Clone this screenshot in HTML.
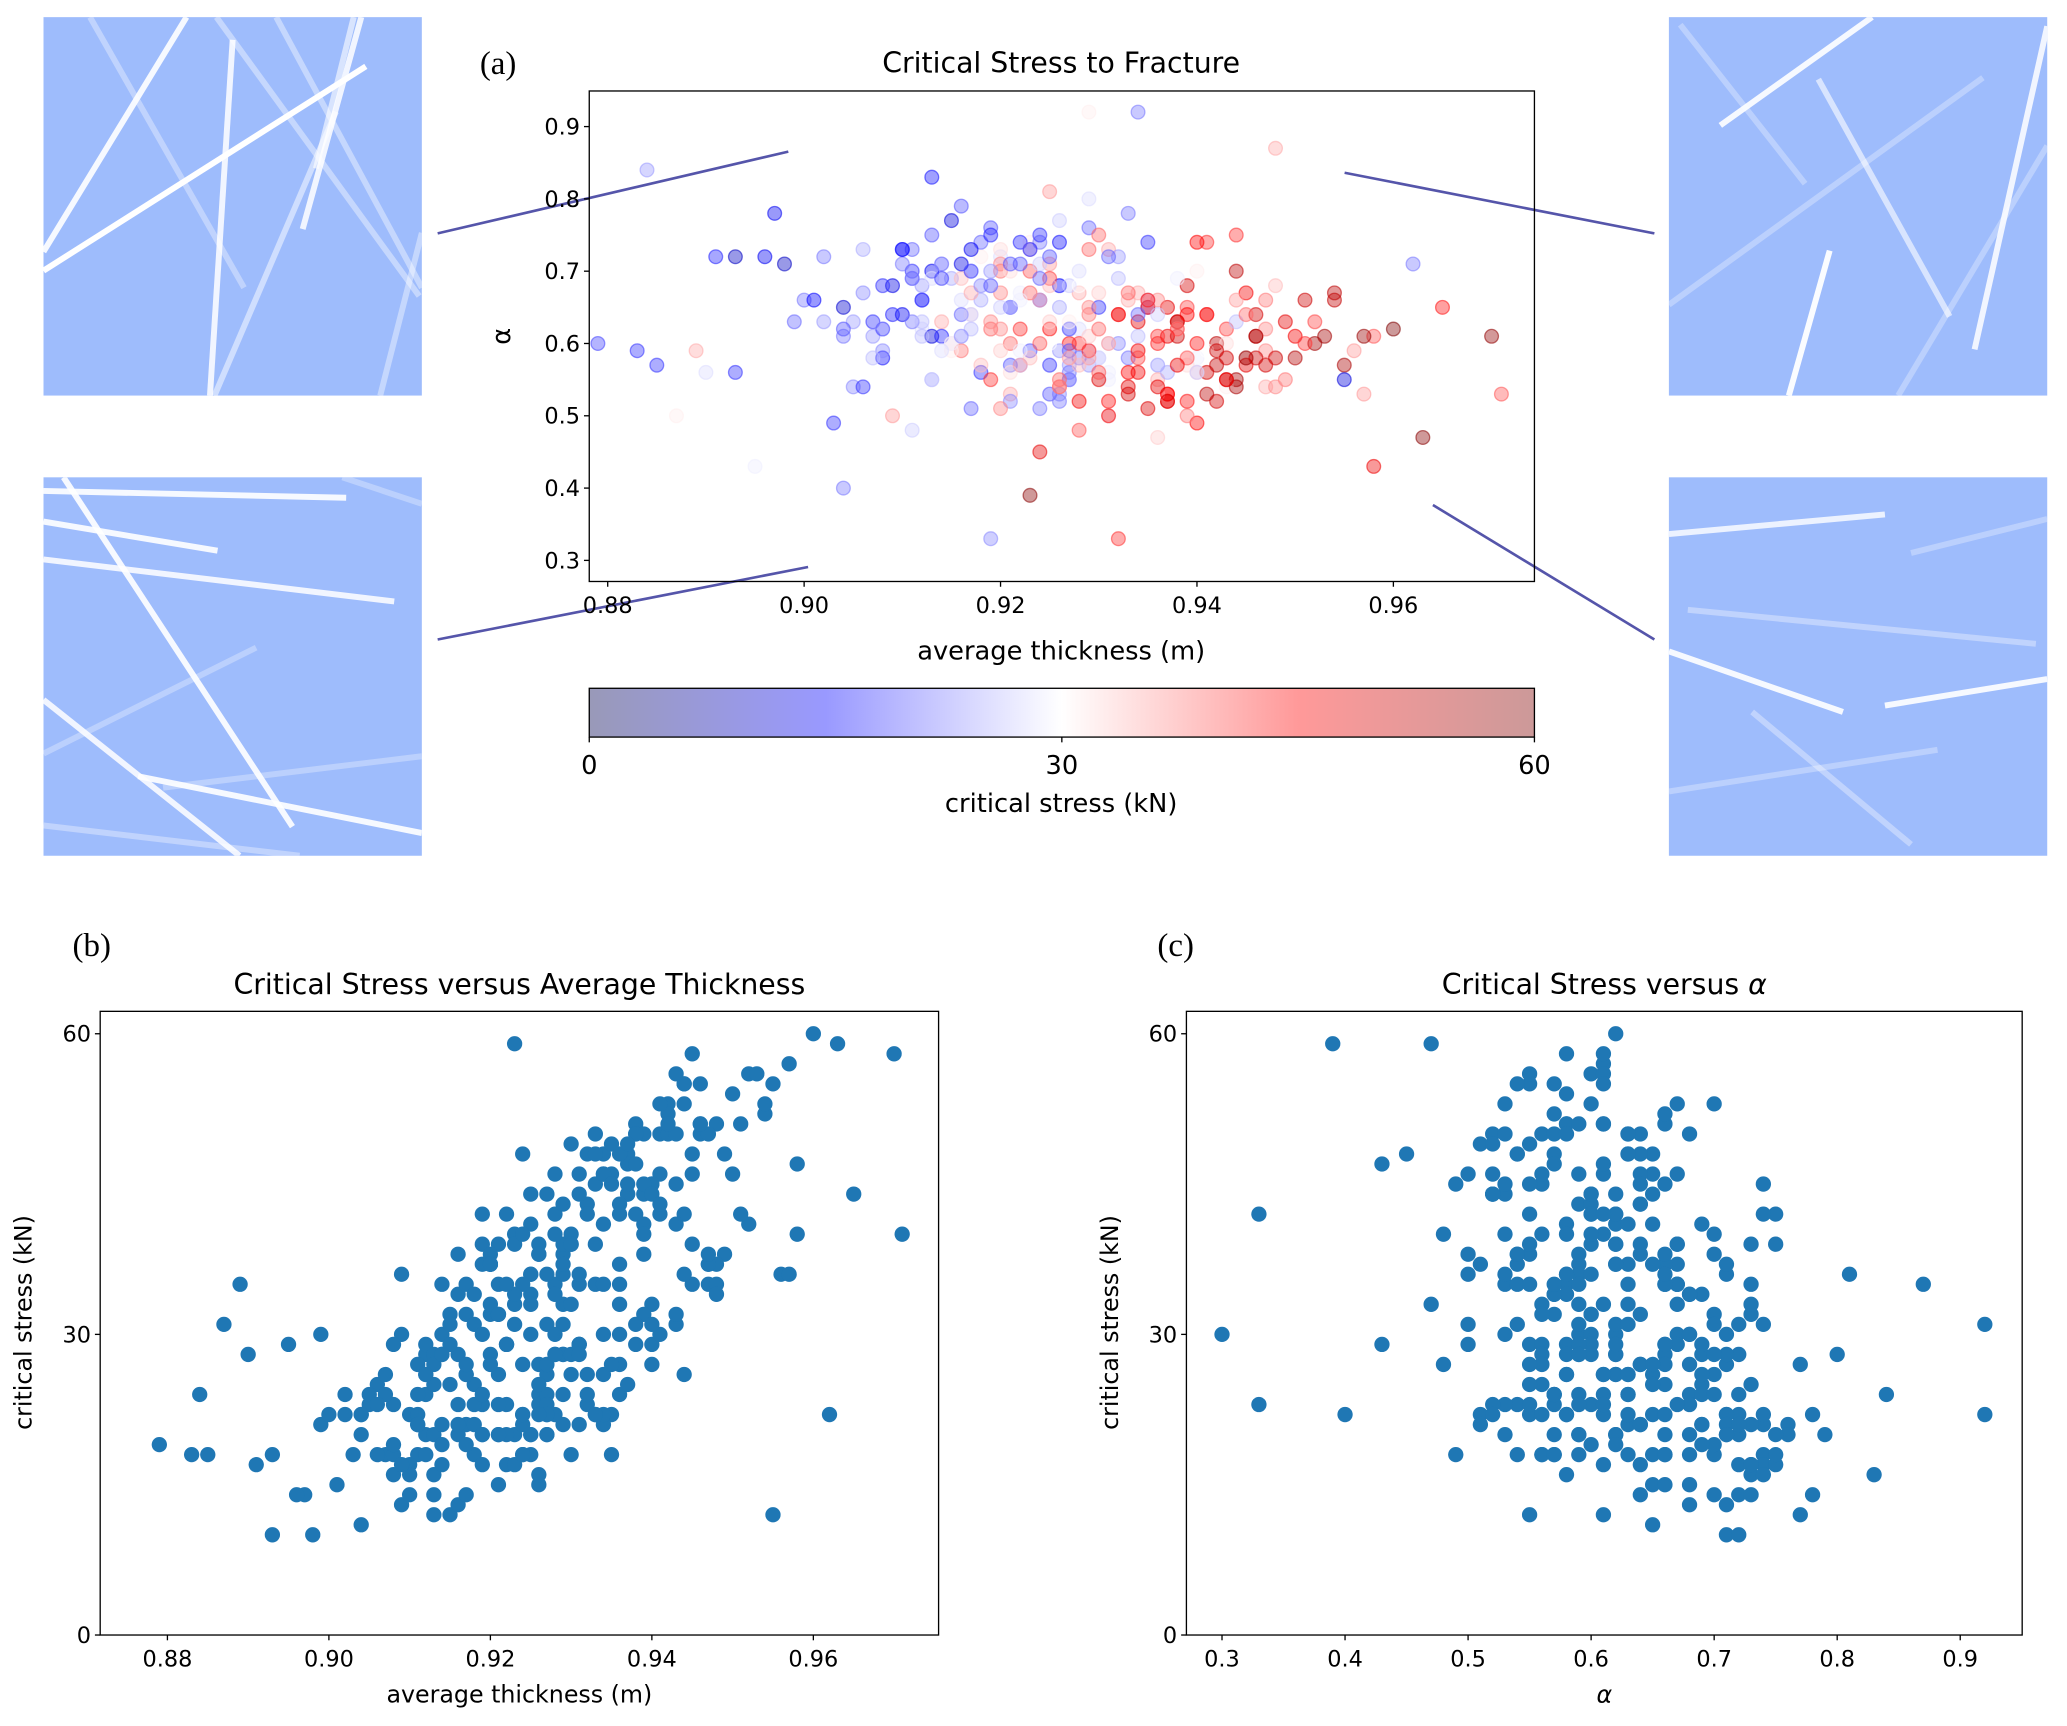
<!DOCTYPE html>
<html><head><meta charset="utf-8"><style>
html,body{margin:0;padding:0;background:#fff;}
svg{display:block;font-family:"DejaVu Sans","Liberation Sans",sans-serif;}
.tk{font-size:17px;fill:#000;}
.ttl{font-size:21.5px;fill:#000;}
.lbl{font-size:19.5px;fill:#000;}
.al{font-size:18px;fill:#000;}
.pl{font-family:"Liberation Serif",serif;font-size:25px;fill:#000;}
</style></head><body>
<svg id="fig" width="2067" height="1726" viewBox="0 0 1568 1309" preserveAspectRatio="none" xmlns="http://www.w3.org/2000/svg">
<defs>
<linearGradient id="cbg" x1="0" x2="1" y1="0" y2="0">
<stop offset="0" stop-color="#9999b8"/><stop offset="0.25" stop-color="#9999ff"/><stop offset="0.5" stop-color="#ffffff"/><stop offset="0.75" stop-color="#ff9999"/><stop offset="1" stop-color="#cc9999"/>
</linearGradient>
</defs>
<g id="panels"></g>
<g id="plotA"></g>
<g id="plotB"></g>
<g id="plotC"></g>
</svg>
<script>
const thickness = [912,931,925,940,918,903,927,935,921,946,909,929,938,916,924,951,907,933,920,944,
926,914,937,899,929,942,918,923,911,935,955,920,928,905,939,931,917,947,924,913,
933,908,921,944,926,915,936,902,929,949,919,925,940,912,930,958,923,906,937,927,
917,941,910,928,934,897,922,945,914,931,927,952,908,936,920,943,925,916,939,930,
922,935,904,947,918,929,913,938,926,893,941,921,932,911,950,924,937,915,928,944,
929,910,940,923,956,917,931,906,936,925,914,948,921,939,902,927,934,919,943,912,
936,920,926,900,945,913,932,924,941,908,929,917,954,922,937,911,930,946,918,927,
914,943,919,934,909,928,939,896,925,950,916,931,905,940,923,935,912,927,947,920,
931,925,944,911,921,938,901,929,916,942,934,920,957,927,913,945,924,937,908,930,
919,939,913,930,953,922,907,936,926,944,915,932,898,928,941,917,933,910,925,948,
884,962,889,970,893,965,883,960,891,957,879,955,887,963,895,971,885,958,890,954,
928,916,938,921,933,904,946,925,912,940,923,931,909,936,919,943,927,914,934,922,
929,899,932,934,919,948,904,923,
921,934,917,929,945,911,926,938,915,932,904,924,942,919,936,927,913,949,922,931,
925,939,910,930,918,947,923,935,907,928,941,916,933,920,952,926,914,937,924,943,
918,932,927,940,912,936,921,945,929,906,938,923,915,934,948,926,920,931,942,917,
930,913,944,924,937,919,951,928,909,940,922,935,917,946,926,933,911,939,925,921,
916,927,934,920,943,912,930,924,938,908,947,919,933,928,914,941,922,936,926,929];
const alpha = [62,55,71,58,66,49,60,74,53,64,68,57,61,79,51,66,63,58,72,55,
59,67,52,63,76,60,56,70,48,65,57,73,62,54,68,50,64,59,71,61,
66,58,60,75,53,69,57,63,80,55,62,72,49,66,58,61,74,54,65,59,
70,56,64,52,61,78,67,58,63,73,55,60,68,47,71,62,57,66,50,75,
57,65,61,54,72,59,83,63,68,56,74,52,64,70,58,66,53,77,60,63,
64,71,56,67,59,62,50,73,55,69,61,58,65,52,72,57,63,76,54,68,
53,62,77,66,57,70,60,45,64,59,73,51,66,62,56,69,58,61,74,55,
71,60,55,67,62,58,65,72,53,61,69,56,63,74,59,51,66,62,57,70,
60,68,54,73,57,63,66,59,71,52,64,67,61,56,75,58,69,53,62,65,
63,57,69,55,61,74,58,66,52,70,60,64,71,48,59,67,56,73,62,54,
84,71,59,61,72,65,59,62,72,53,60,55,50,47,43,53,57,43,56,67,
67,59,62,70,54,65,58,81,61,56,73,60,50,64,68,55,62,71,59,66,
92,30,33,92,33,87,40,39,
65,58,70,61,67,63,54,69,59,72,62,66,57,75,60,68,55,63,71,52,
60,64,73,56,68,62,58,66,61,70,53,64,67,59,63,55,69,61,74,58,
57,69,63,60,66,54,71,64,58,67,62,73,60,56,68,65,51,72,59,64,
62,55,66,75,52,68,60,57,64,70,59,66,73,61,54,78,69,58,63,56,
61,58,71,65,55,63,67,60,57,62,66,70,53,68,59,64,57,61,74,65];
const stress = [28,29,36,29,25,18,44,18,35,50,13,24,51,20,22,51,18,22,28,55,
24,30,44,21,21,53,18,40,27,22,55,32,28,23,50,29,32,37,27,12,
35,16,39,42,23,25,24,24,28,38,39,20,45,29,26,40,31,18,48,20,
26,50,14,46,26,14,29,35,35,35,22,56,18,33,37,41,18,28,38,39,
23,46,22,35,31,28,16,50,15,18,42,23,48,18,54,18,44,12,42,26,
38,22,33,39,36,26,46,25,35,41,17,51,15,44,22,24,48,20,31,24,
30,37,27,22,48,14,23,48,46,23,39,21,52,42,25,24,28,51,21,23,
28,32,42,35,30,22,41,14,20,46,34,29,24,45,20,49,20,26,50,38,
28,34,55,21,20,50,15,43,13,50,21,37,57,22,20,58,21,45,29,18,
37,32,28,49,56,17,26,37,22,53,32,43,10,40,30,35,45,17,44,37,
24,22,35,58,10,44,18,60,17,36,19,12,31,59,29,40,18,47,28,53,
35,38,31,32,48,11,51,36,26,27,33,36,36,27,30,56,20,21,46,29,
31,30,42,22,23,35,22,59,
26,41,19,33,46,22,38,29,31,24,20,35,52,17,43,27,25,48,20,44,
30,45,16,40,23,37,34,27,24,28,53,21,39,33,41,39,19,47,22,50,
34,26,31,44,18,48,20,39,36,23,42,17,29,46,34,25,37,21,51,27,
39,27,36,18,49,20,42,34,17,31,29,45,14,55,38,22,21,40,33,32,
23,36,30,27,45,26,33,40,47,19,38,24,50,30,28,43,35,42,16,37];
const xTicksThick = ["0.88","0.90","0.92","0.94","0.96"];
const yTicksAlpha = ["0.3","0.4","0.5","0.6","0.7","0.8","0.9"];
const yTicksStress = ["0","30","60"];
const xTicksAlpha = ["0.3","0.4","0.5","0.6","0.7","0.8","0.9"];
const cbTicks = ["0","30","60"];

const NS="http://www.w3.org/2000/svg";
function mk(parent,tag,attrs,text){const e=document.createElementNS(NS,tag);for(const k in attrs)e.setAttribute(k,attrs[k]);if(text!==undefined)e.textContent=text;parent.appendChild(e);return e;}
function lin(d0,d1,p0,p1){return v=>p0+(v-d0)*(p1-p0)/(d1-d0);}
function seismic(v){let r,g,b;if(v<0.25){r=0;g=0;b=0.3+0.7*v/0.25;}else if(v<0.5){const w=(v-0.25)/0.25;r=w;g=w;b=1;}else if(v<0.75){const w=(v-0.5)/0.25;r=1;g=1-w;b=1-w;}else{const w=(v-0.75)/0.25;r=1-0.5*w;g=0;b=0;}return `rgb(${Math.round(r*255)},${Math.round(g*255)},${Math.round(b*255)})`;}

const panels=document.getElementById('panels');
function panel(name,x,y,lines){const g=mk(panels,'g',{});
 mk(g,'rect',{x:x,y:y,width:287,height:287,fill:'#9ebcfc'});
 const cp='cp'+name;const c=mk(g,'clipPath',{id:cp});mk(c,'rect',{x:x,y:y,width:287,height:287});
 const gg=mk(g,'g',{'clip-path':`url(#${cp})`});
 lines.forEach(l=>mk(gg,'line',{x1:x+l[0]*287,y1:y+l[1]*287,x2:x+l[2]*287,y2:y+l[3]*287,stroke:'#fff','stroke-width':l[5]||4.5,'stroke-opacity':l[4]}));}
panel('fiber-image-top-left',33,13,[[0.123,0,0.53,0.715,0.35],[0.457,0,0.993,0.737,0.4],[0.615,0,1,0.715,0.4],[0.452,1,0.773,0.25,0.5],[0.89,1,1,0.57,0.4],[0,0.62,0.378,0,0.9],[0,0.67,0.852,0.13,1],[0.5,0.06,0.44,1,0.85],[0.685,0.56,0.84,0,0.85],[0.82,0,0.72,0.4,0.6]]);
panel('fiber-image-bottom-left',33,362,[[0,0.73,0.562,0.45,0.3],[0.316,0.82,1,0.737,0.3],[0,0.92,0.677,1,0.35],[0.79,0,1,0.07,0.3],[0,0.036,0.8,0.054,0.9],[0,0.117,0.46,0.194,0.9],[0,0.217,0.927,0.328,0.85],[0.053,0,0.658,0.923,0.9],[0,0.588,0.518,1,0.85],[0.25,0.79,1,0.94,0.9]]);
panel('fiber-image-top-right',1266,13,[[0,0.76,0.83,0.16,0.3],[0.03,0.02,0.36,0.44,0.3],[0.606,1,1,0.34,0.3],[0.395,0.164,0.742,0.791,0.6],[0.136,0.286,0.537,0,0.9],[0.317,1,0.425,0.617,0.95],[0.808,0.878,1,0.024,0.85]]);
panel('fiber-image-bottom-right',1266,362,[[0.05,0.35,0.97,0.44,0.35],[0.22,0.62,0.64,0.97,0.35],[0,0.83,0.71,0.72,0.3],[0.64,0.2,1,0.11,0.3],[0,0.15,0.571,0.098,0.8],[0,0.46,0.46,0.62,0.9],[0.571,0.603,1,0.533,0.9]]);
[[332,177,598,115],[332,485,613,430],[1020,131,1255,177],[1087,383,1255,485]].forEach((c,i)=>{const l=mk(panels,'line',{x1:c[0],y1:c[1],x2:c[2],y2:c[3],stroke:'#5555aa','stroke-width':2});});

function axesFrame(g,x0,y0,x1,y1){mk(g,'rect',{x:x0,y:y0,width:x1-x0,height:y1-y0,fill:'none',stroke:'#000','stroke-width':1});}
function xticks(g,labels,vals,sx,yb){labels.forEach((t,i)=>{const x=sx(vals[i]);mk(g,'line',{x1:x,y1:yb,x2:x,y2:yb+4,stroke:'#000'});const e=mk(g,'text',{x:x,y:yb+24,'text-anchor':'middle',class:'tk'},t);});}
function yticks(g,labels,vals,sy,xl){labels.forEach((t,i)=>{const y=sy(vals[i]);mk(g,'line',{x1:xl-4,y1:y,x2:xl,y2:y,stroke:'#000'});const e=mk(g,'text',{x:xl-7,y:y+6,'text-anchor':'end',class:'tk'},t);});}

(function(){const g=document.getElementById('plotA');
 const sx=lin(0.88,0.96,461,1057), sy=lin(0.3,0.9,425,96);
 mk(g,'text',{x:364,y:56,class:'pl'},'(a)');
 const t=mk(g,'text',{x:805,y:55,'text-anchor':'middle',class:'ttl'},'Critical Stress to Fracture');
 const cp=mk(g,'clipPath',{id:'cpA'});mk(cp,'rect',{x:447,y:69,width:717,height:372});
 const pg=mk(g,'g',{'clip-path':'url(#cpA)'});
 thickness.forEach((tv,i)=>{const c=seismic(stress[i]/60);const p=mk(pg,'circle',{cx:sx(tv/1000),cy:sy(alpha[i]/100),r:5.2,fill:c,'fill-opacity':0.4,stroke:c,'stroke-opacity':0.55,'stroke-width':1});});
 axesFrame(g,447,69,1164,441);
 xticks(g,xTicksThick,xTicksThick.map(Number),sx,441);
 yticks(g,yTicksAlpha,yTicksAlpha.map(Number),sy,447);
 const xl=mk(g,'text',{x:805,y:500,'text-anchor':'middle',class:'lbl'},'average thickness (m)');
 const yl=mk(g,'text',{x:387,y:255,'text-anchor':'middle',class:'lbl',transform:'rotate(-90 387 255)'},'α');
 const cb=mk(g,'rect',{x:447,y:522,width:717,height:37,fill:'url(#cbg)',stroke:'#000','stroke-width':1});
 const sc=lin(0,60,447,1164);
 cbTicks.forEach(v=>{const x=sc(Number(v));mk(g,'line',{x1:x,y1:559,x2:x,y2:563,stroke:'#000'});const e=mk(g,'text',{x:x,y:587,'text-anchor':'middle',class:'lbl'},v);});
 const cl=mk(g,'text',{x:805,y:616,'text-anchor':'middle',class:'lbl'},'critical stress (kN)');
})();

function panelBC(id,letter,lx,x0,x1,title,xs,xvals,xlabels,xlabel,italicX){
 const g=document.getElementById(id);
 const y0=767,y1=1240;const sy=lin(0,60,1240,784);
 const pl=mk(g,'text',{x:lx,y:725,class:'pl'},'('+letter+')');
 const cx=(x0+x1)/2;
 const t=mk(g,'text',{x:cx,y:754,'text-anchor':'middle',class:'ttl'});
 t.innerHTML=title;
 xvals.forEach((v,i)=>{const p=mk(g,'circle',{cx:xs(v),cy:sy(stress[i]),r:5.8,fill:'#1f77b4'});});
 axesFrame(g,x0,y0,x1,y1);
 xticks(g,xlabels,xlabels.map(Number),xs,y1);
 yticks(g,yTicksStress,yTicksStress.map(Number),sy,x0);
 const xl=mk(g,'text',{x:cx,y:1291,'text-anchor':'middle',class:'al','font-style':italicX?'italic':'normal'});xl.textContent=xlabel;
 const yx=x0-52;
 const yl=mk(g,'text',{x:yx,y:1003,'text-anchor':'middle',class:'al',transform:`rotate(-90 ${yx} 1003)`},'critical stress (kN)');
}
panelBC('plotB','b',55,76,712,'Critical Stress versus Average Thickness',lin(0.88,0.96,127,617),thickness.map(v=>v/1000),xTicksThick,'average thickness (m)',false);
panelBC('plotC','c',878,900,1534,'Critical Stress versus <tspan font-style="italic">α</tspan>',lin(0.3,0.9,927,1487),alpha.map(v=>v/100),xTicksAlpha,'α',true);
</script>
</body></html>
